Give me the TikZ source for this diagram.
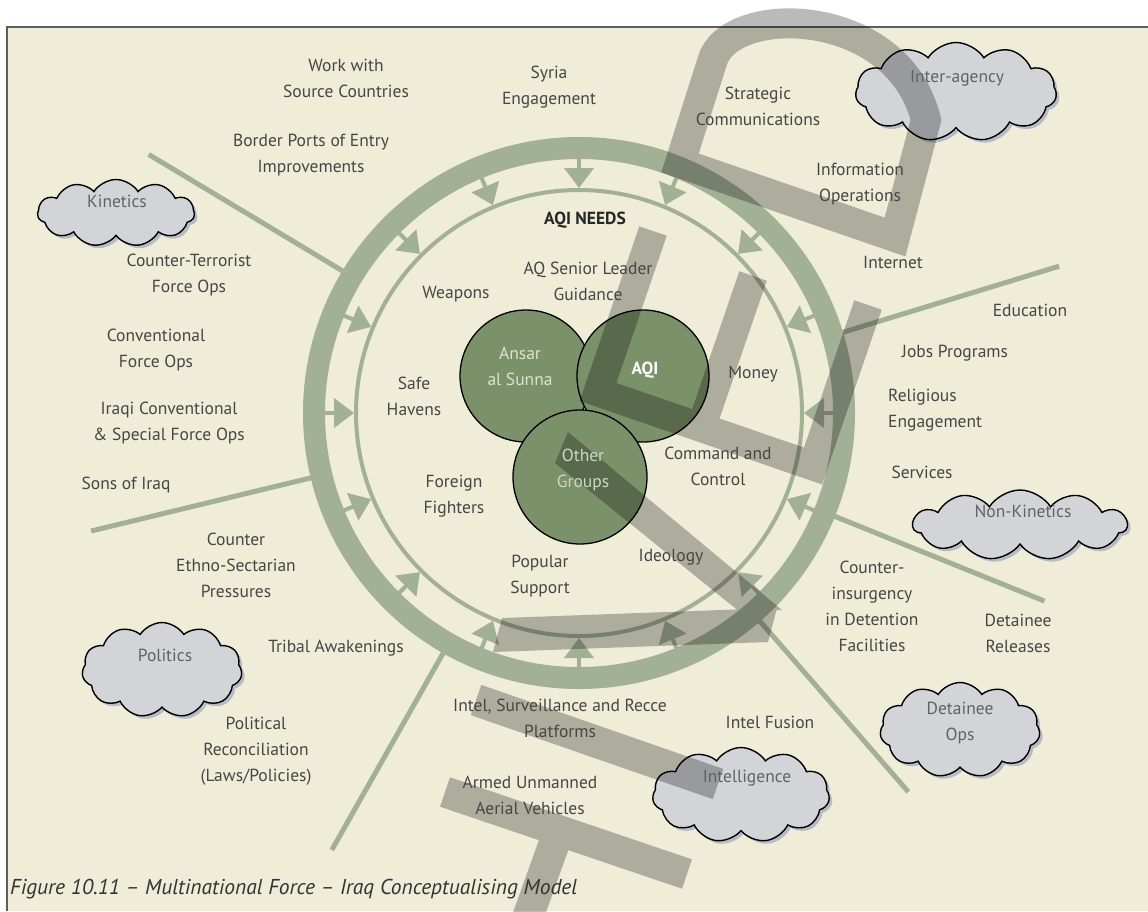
\documentclass[tikz,border=0pt]{standalone}
\usepackage{fontspec}
\setmainfont{PT Sans}
\usetikzlibrary{shapes.symbols,shadows,arrows.meta}
\definecolor{bg}{HTML}{EFECD8}
\definecolor{ring}{HTML}{A2B095}
\definecolor{blob}{HTML}{7A9169}
\definecolor{cloudfill}{HTML}{D3D4D8}
\definecolor{shadowc}{HTML}{B7BBC8}
\definecolor{txt}{HTML}{464646}
\definecolor{frm}{HTML}{5E5E5E}
\definecolor{blobtxt}{HTML}{DCE3D4}
\begin{document}
\begin{tikzpicture}[x=1pt,y=-1pt,
  lbl/.style={font=\fontsize{17.5}{26}\selectfont, text=txt, align=center, inner sep=0pt},
  bloblbl/.style={font=\fontsize{17.5}{26}\selectfont, text=blobtxt, align=center, inner sep=0pt},
  spoke/.style={draw=ring, line width=5pt},
  blobc/.style={circle, draw=black, line width=1.3pt, fill=blob, inner sep=0pt},
  cloudy/.style={cloud, cloud puffs=11, cloud puff arc=115, cloud ignores aspect, draw=black, line width=1.4pt, fill=cloudfill, inner sep=0pt,
     drop shadow={shadow xshift=3pt, shadow yshift=-3pt, fill=shadowc, opacity=1}},
  wm/.style={draw=black, draw opacity=0.27, line width=30pt, line join=miter, line cap=butt},
  wmfill/.style={fill=black, fill opacity=0.27}
]
% page and frame
\useasboundingbox (0,0) rectangle (1148,911);
\fill[white] (0,0) rectangle (1148,911);
\fill[bg] (7,27) rectangle (1148,911);
\draw[frm, line width=1.5pt] (1148,27) -- (7,27) -- (7,911);

\coordinate (c) at (579,413);

% spokes, ring, inner circle, arrows
\begin{scope}[shift={(579,413)}]
  \foreach \a in {149,193.6,240.5,-49,-22,17}
    \draw[spoke] (-\a:268) -- (-\a:502);
  \draw[ring, line width=22pt] (0,0) circle[radius=265];
  \draw[ring, line width=4pt] (0,0) circle[radius=223];
  \foreach \a in {0,22.5,...,337.5}
    \draw[ring, line width=4pt, -{Triangle[length=20pt,width=29pt]}] (\a:256) -- (\a:225);
\end{scope}

% three groups
\node[blobc, minimum size=132pt] (ansar) at (526,376) {};
\node[blobc, minimum size=132pt] (aqi) at (643,376) {};
\node[blobc, minimum size=134pt] (other) at (580,477) {};

% clouds
\node[cloudy, minimum width=157pt, minimum height=67pt] (kin) at (116,213) {};
\node[cloudy, minimum width=201pt, minimum height=99pt] (inter) at (956,92) {};
\node[cloudy, minimum width=214pt, minimum height=70pt] (nonkin) at (1020,525) {};
\node[cloudy, minimum width=160pt, minimum height=95pt] (pol) at (162,670) {};
\node[cloudy, minimum width=177pt, minimum height=95pt] (intel) at (741,795) {};
\node[cloudy, minimum width=160pt, minimum height=95pt] (det) at (960,730) {};

% watermark strokes
\draw[wm] (680,163) -- (712,62) .. controls (728,2) and (898,5) .. (926,120) -- (895,237) -- cycle;
\draw[wm, line width=29pt] (653,231) -- (598,392) -- (813,466) -- (868,305) (701,428) -- (753,276);
\draw[wm, line width=32pt] (476,700) -- (718,784);
\draw[wm, line width=31pt] (445,792) -- (687,874) (559,830) -- (525,925);
\fill[wmfill] (568,432) -- (782,610) -- (740,612) -- (555,463) -- cycle
              (502,618) -- (777,608) -- (768,642) -- (493,652) -- cycle;

% cloud labels
\node[lbl, text=txt!85] (kint) at (117,201) {Kinetics};
\node[lbl, text=txt!85] (intert) at (957,78) {Inter-agency};
\node[lbl, text=txt!85] (nonkint) at (1023,511) {Non-Kinetics};
\node[lbl, text=txt!85] (polt) at (165,655) {Politics};
\node[lbl, text=txt!85] (intelt) at (747,778) {Intelligence};
\node[lbl, text=txt!85] (dett) at (960,723) {Detainee\\Ops};

% outer labels
\node[lbl] (work) at (346,78) {Work with\\Source Countries};
\node[lbl] (syria) at (549,87) {Syria\\Engagement};
\node[lbl] (strat) at (758,106) {Strategic\\Communications};
\node[lbl] (info) at (860,184) {Information\\Operations};
\node[lbl] (net) at (893,262) {Internet};
\node[lbl] (border) at (311,155) {Border Ports of Entry\\Improvements};
\node[lbl] (ct) at (189,275) {Counter-Terrorist\\Force Ops};
\node[lbl] (conv) at (156,350) {Conventional\\Force Ops};
\node[lbl] (iraqi) at (169,423) {Iraqi Conventional\\\& Special Force Ops};
\node[lbl] (sons) at (126,485) {Sons of Iraq};
\node[lbl] (ethno) at (236,565) {Counter\\Ethno-Sectarian\\Pressures};
\node[lbl] (tribal) at (336,648) {Tribal Awakenings};
\node[lbl] (polrec) at (256,751) {Political\\Reconciliation\\(Laws/Policies)};
\node[lbl] (isr) at (560,718) {Intel, Surveillance and Recce\\Platforms};
\node[lbl] (uav) at (530,795) {Armed Unmanned\\Aerial Vehicles};
\node[lbl] (fusion) at (770,722) {Intel Fusion};
\node[lbl] (coin) at (872,606) {Counter-\\insurgency\\in Detention\\Facilities};
\node[lbl] (rel) at (1018,633) {Detainee\\Releases};
\node[lbl] (serv) at (922,472) {Services};
\node[lbl, align=left, anchor=west] (relig) at (888,410) {Religious\\Engagement};
\node[lbl] (jobs) at (955,353) {Jobs Programs};
\node[lbl] (edu) at (1030,310) {Education};

% inner labels
\node[lbl, font=\fontsize{17.5}{26}\selectfont\bfseries, text=black!85] (needs) at (585,220) {AQI NEEDS};
\node[lbl] (aqsl) at (588,281) {AQ Senior Leader\\Guidance};
\node[lbl] (weap) at (456,294) {Weapons};
\node[lbl] (safe) at (414,396) {Safe\\Havens};
\node[lbl] (money) at (753,374) {Money};
\node[lbl] (cc) at (718,466) {Command and\\Control};
\node[lbl] (ff) at (454,496) {Foreign\\Fighters};
\node[lbl] (pop) at (540,576) {Popular\\Support};
\node[lbl] (ideo) at (671,557) {Ideology};

% group labels
\node[bloblbl] (ansart) at (520,366) {Ansar\\al Sunna};
\node[bloblbl, text=white, font=\fontsize{17.5}{26}\selectfont\bfseries] (aqit) at (645,370) {AQI};
\node[bloblbl, text=blobtxt!85!blob] (othert) at (583,470) {Other\\Groups};

% caption
\node[lbl, anchor=west, font=\fontsize{21.5}{26}\selectfont\itshape, text=black!80] (cap) at (10,889) {Figure 10.11 – Multinational Force – Iraq Conceptualising Model};
\end{tikzpicture}
\end{document}
